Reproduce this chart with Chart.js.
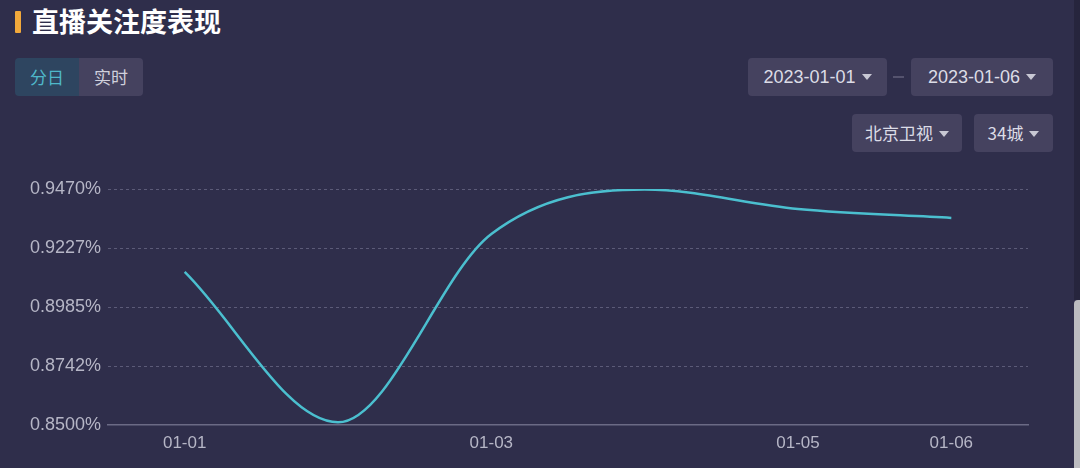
<!DOCTYPE html>
<html>
<head>
<meta charset="utf-8">
<script src="https://cdn.jsdelivr.net/npm/chart.js@4"></script>
<style>
  html, body { margin: 0; padding: 0; }
  body {
    width: 1080px; height: 468px; overflow: hidden; position: relative;
    background: #2f2e4b;
    font-family: "Liberation Sans", "Noto Sans CJK SC", sans-serif;
  }
  .title { position: absolute; left: 32px; top: 2px; font-size: 27px; font-weight: bold; color: #ffffff;
    font-family: "Noto Sans CJK SC", sans-serif; line-height: 38px; }
  .bar { position: absolute; left: 15px; top: 11px; width: 6px; height: 22px; background: #f2a93b; border-radius: 1px; }
  .tabs { position: absolute; left: 15px; top: 58px; height: 38px; display: flex; border-radius: 4px; overflow: hidden;
    font-family: "Noto Sans CJK SC", sans-serif; font-size: 17px; }
  .tabs div { width: 64px; line-height: 38px; text-align: center; }
  .tab-on { background: #2e4560; color: #4fb8ca; }
  .tab-off { background: #45425f; color: #d0d0dc; }
  .sel { position: absolute; height: 38px; background: #45425f; border-radius: 4px; color: #dcdce6;
    font-size: 18px; line-height: 38px; text-align: center; }
  .sel .caret { display: inline-block; width: 0; height: 0; border-left: 5px solid transparent; border-right: 5px solid transparent;
    border-top: 6px solid #c8c8d4; margin-left: 6px; vertical-align: middle; position: relative; top: -1px; }
  .dash { position: absolute; left: 893px; top: 76px; width: 11px; height: 2px; background: #55536e; }
  #wrap { position: absolute; left: 0; top: 170px; width: 1040px; height: 298px; }
  .track { position: absolute; left: 1074px; top: 0; width: 6px; height: 300px; background: #26253d; }
  .thumb { position: absolute; left: 1074px; top: 300px; width: 6px; height: 168px; background: #bcbcc0; border-radius: 4px 0 0 0; }
</style>
</head>
<body>
<div class="bar"></div>
<div class="title">直播关注度表现</div>
<div class="tabs"><div class="tab-on">分日</div><div class="tab-off">实时</div></div>
<div class="sel" style="left:748px;top:58px;width:139px;">2023-01-01<span class="caret"></span></div>
<div class="dash"></div>
<div class="sel" style="left:911px;top:58px;width:142px;">2023-01-06<span class="caret"></span></div>
<div class="sel" style="left:852px;top:114px;width:110px;font-size:17px;font-family:'Noto Sans CJK SC',sans-serif;">北京卫视<span class="caret"></span></div>
<div class="sel" style="left:974px;top:114px;width:79px;font-size:17px;font-family:'Noto Sans CJK SC',sans-serif;">34城<span class="caret"></span></div>
<div class="track"></div>
<div class="thumb"></div>
<div id="wrap"><canvas id="attentionChart"></canvas></div>
<script>
// data
const days = ["01-01", "01-02", "01-03", "01-04", "01-05", "01-06"];
const shownDays = ["01-01", "01-03", "01-05", "01-06"];
const attention = [0.9129, 0.8511, 0.9285, 0.9468, 0.9388, 0.9351];
const yTicks = [0.8500, 0.8742, 0.8985, 0.9227, 0.9470];

document.addEventListener("DOMContentLoaded", function () {
    const canvas = document.getElementById("attentionChart");
    if (!canvas) return;
    new Chart(canvas, {
        type: "line",
        data: {
            labels: days,
            datasets: [{
                data: attention,
                borderColor: "#4bbfcf",
                borderWidth: 2.5,
                pointRadius: 0,
                cubicInterpolationMode: "monotone",
                fill: false
            }]
        },
        options: {
            responsive: true,
            maintainAspectRatio: false,
            animation: false,
            layout: { padding: { top: 19, right: 12, left: 0, bottom: 0 } },
            plugins: { legend: { display: false }, tooltip: { enabled: false } },
            scales: {
                x: {
                    offset: true,
                    grid: { display: false, drawTicks: false },
                    border: { display: true, color: "#6b6a85", width: 1.5 },
                    ticks: {
                        autoSkip: false,
                        maxRotation: 0,
                        padding: 8,
                        color: "#b6b6c6",
                        font: { size: 17, family: "Liberation Sans" },
                        callback: function (v, i) {
                            const d = days[i];
                            return shownDays.includes(d) ? d : "";
                        }
                    },
                    afterFit: function (s) { s.height = 43; }
                },
                y: {
                    min: yTicks[0],
                    max: yTicks[yTicks.length - 1],
                    afterBuildTicks: function (s) { s.ticks = yTicks.map(v => ({ value: v })); },
                    grid: {
                        drawTicks: false,
                        color: function (ctx) { return ctx.index === 0 ? "rgba(0,0,0,0)" : "#5c5b78"; },
                        lineWidth: 1
                    },
                    border: { display: false, dash: [3, 3] },
                    ticks: {
                        padding: 7,
                        color: "#b6b6c6",
                        font: { size: 18, family: "Liberation Sans" },
                        callback: function (v) { return v.toFixed(4) + "%"; }
                    },
                    afterFit: function (s) { s.width = 108; }
                }
            }
        }
    });
});
</script>
</body>
</html>
